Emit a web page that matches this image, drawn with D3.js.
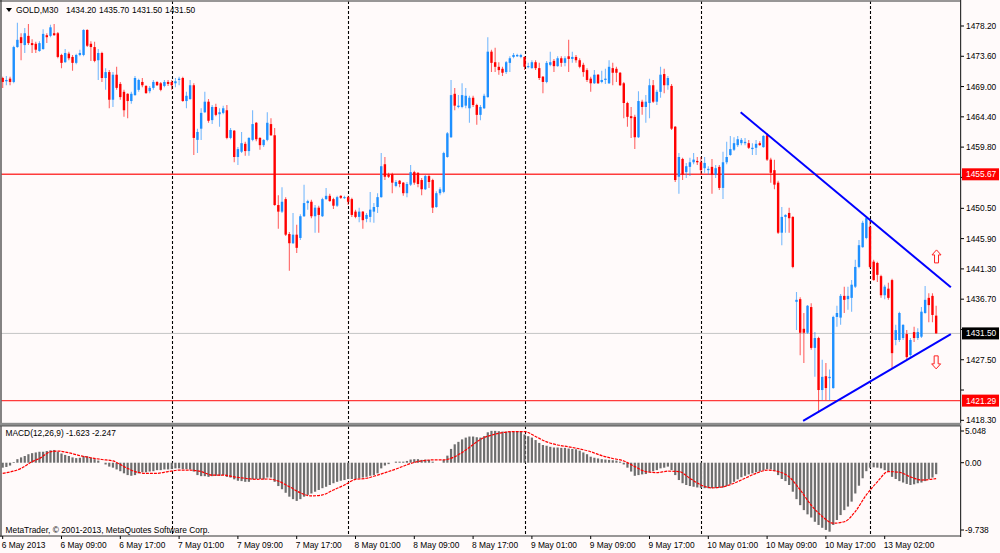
<!DOCTYPE html>
<html>
<head>
<meta charset="utf-8">
<script src="https://cdn.jsdelivr.net/npm/d3@7"></script>
<style>
body{margin:0;background:#fff}
svg{display:block}
text{font-family:"Liberation Sans",Arial,sans-serif;font-size:8.4px;fill:#000}
</style>
</head>
<body>
<div id="container"></div>
<script>
// GOLD M30 bars, 6 May 2013 01:00 .. 13 May 2013 09:00
const open = [1470.3,1469.8,1470.2,1469.7,1475.0,1476.5,1475.3,1476.7,1475.6,1475.5,
1474.4,1474.7,1476.8,1476.7,1477.1,1477.1,1473.8,1472.7,1474.0,1473.5,
1472.6,1473.8,1473.8,1477.6,1475.5,1475.0,1473.0,1474.1,1470.3,1471.2,
1467.0,1470.8,1469.4,1468.2,1467.9,1466.8,1467.7,1468.5,1469.7,1469.1,
1468.3,1468.8,1469.7,1469.5,1469.1,1469.7,1469.7,1469.5,1470.0,1470.3,
1466.8,1467.1,1469.2,1460.9,1462.6,1465.1,1466.7,1463.9,1465.9,1464.8,
1465.0,1465.4,1461.2,1462.3,1458.3,1459.1,1460.3,1459.2,1460.9,1463.5,
1461.2,1460.1,1460.9,1463.3,1461.6,1451.0,1450.0,1451.9,1446.6,1445.2,
1446.5,1446.0,1449.3,1451.3,1451.5,1449.3,1450.6,1449.3,1451.9,1452.4,
1451.9,1450.9,1452.4,1452.1,1452.2,1451.9,1450.0,1449.2,1450.0,1448.9,
1449.2,1450.0,1450.7,1452.2,1457.2,1455.6,1455.7,1453.9,1454.7,1454.4,
1452.8,1454.1,1456.0,1455.9,1454.8,1453.4,1455.4,1454.8,1450.7,1452.8,
1453.0,1458.3,1461.3,1467.9,1465.9,1465.9,1466.1,1465.7,1467.3,1466.2,
1464.7,1465.7,1467.4,1474.3,1472.7,1472.0,1471.7,1471.2,1472.6,1473.5,
1473.6,1473.5,1473.5,1472.0,1471.8,1472.7,1471.8,1470.5,1469.7,1472.3,
1472.9,1472.1,1473.3,1472.6,1473.6,1473.2,1473.5,1473.0,1472.3,1471.5,
1470.2,1469.5,1470.8,1469.7,1470.0,1469.5,1471.8,1471.7,1471.1,1469.5,
1466.5,1464.5,1464.4,1461.3,1466.7,1465.9,1466.5,1469.2,1466.7,1468.2,
1470.9,1469.2,1469.1,1462.9,1455.3,1458.0,1456.0,1456.8,1457.5,1457.7,
1457.5,1456.6,1456.3,1456.8,1455.6,1456.8,1453.6,1457.5,1458.6,1459.4,
1460.1,1460.4,1460.4,1460.4,1459.5,1459.7,1460.4,1459.8,1461.6,1457.9,
1456.3,1454.4,1446.8,1449.2,1449.8,1449.2,1436.3,1436.7,1432.2,1431.6,
1435.5,1429.3,1430.8,1422.9,1425.0,1424.7,1423.2,1434.0,1433.9,1437.2,
1436.7,1436.9,1438.6,1441.6,1444.6,1446.0,1447.7,1442.4,1442.2,1440.2,
1437.3,1438.3,1439.6,1430.5,1430.5,1430.8,1431.4,1428.2,1431.7,1430.8,
1431.0,1434.6,1436.9,1437.2,1434.2]

const high = [1470.5,1470.6,1470.5,1475.2,1478.7,1477.1,1477.9,1478.5,1476.2,1475.8,
1475.9,1477.7,1477.1,1478.4,1478.5,1477.3,1474.0,1474.7,1474.3,1473.8,
1474.0,1474.6,1477.7,1477.7,1475.9,1475.8,1474.7,1474.3,1471.8,1471.5,
1471.2,1472.0,1469.7,1468.5,1468.0,1468.2,1470.6,1470.2,1470.3,1469.2,
1469.1,1470.0,1469.8,1469.7,1470.0,1470.0,1470.0,1470.3,1470.5,1470.5,
1468.2,1470.0,1469.5,1462.6,1465.7,1468.2,1467.1,1466.2,1466.4,1465.7,
1466.1,1466.2,1462.7,1462.4,1459.8,1462.1,1460.6,1461.3,1465.4,1463.6,
1461.3,1461.0,1465.1,1464.2,1462.7,1452.5,1453.7,1452.2,1446.9,1449.8,
1448.0,1449.6,1454.1,1451.8,1451.8,1451.0,1450.9,1452.1,1453.6,1452.7,
1452.1,1452.4,1452.5,1452.4,1452.4,1452.1,1450.3,1450.6,1450.1,1449.8,
1453.0,1451.3,1452.8,1458.9,1458.3,1455.9,1455.9,1454.8,1454.8,1454.5,
1454.5,1457.1,1456.2,1456.0,1455.1,1455.6,1455.6,1455.0,1453.1,1453.7,
1459.1,1462.1,1470.0,1468.8,1467.7,1469.5,1468.8,1467.6,1467.6,1466.4,
1466.2,1467.9,1476.5,1474.6,1474.9,1472.7,1472.0,1472.9,1473.6,1474.1,
1474.0,1474.0,1473.6,1472.6,1473.0,1473.0,1472.6,1470.6,1472.9,1474.3,
1473.2,1473.6,1473.6,1473.6,1476.1,1474.3,1473.8,1473.3,1472.6,1471.8,
1470.5,1471.5,1470.9,1471.4,1471.7,1473.0,1472.6,1472.0,1471.2,1469.7,
1466.7,1465.9,1464.7,1468.3,1467.0,1467.7,1470.2,1470.0,1468.5,1472.0,
1471.7,1470.6,1469.4,1463.0,1458.9,1458.2,1457.4,1458.2,1458.9,1458.3,
1458.3,1458.3,1456.9,1458.0,1457.1,1457.1,1459.1,1460.6,1461.5,1461.3,
1461.5,1461.2,1461.2,1460.9,1460.4,1460.9,1460.7,1461.6,1461.9,1458.2,
1457.9,1454.7,1450.7,1449.6,1450.6,1449.3,1437.8,1437.0,1434.6,1435.8,
1436.1,1431.7,1431.0,1427.5,1427.0,1426.0,1434.2,1435.7,1437.5,1438.6,
1438.6,1439.6,1442.7,1445.7,1448.6,1449.2,1448.7,1442.7,1442.4,1440.4,
1438.9,1439.2,1439.8,1432.8,1434.8,1432.9,1432.0,1430.8,1432.5,1432.3,
1435.5,1438.7,1437.6,1437.6,1435.7]

const low = [1468.8,1469.2,1469.2,1469.5,1474.9,1473.0,1474.1,1475.3,1474.1,1474.1,
1474.3,1474.6,1475.6,1476.5,1476.7,1473.3,1471.8,1472.6,1473.0,1471.4,
1472.4,1473.6,1473.6,1475.0,1472.9,1472.7,1470.0,1469.7,1468.5,1465.7,
1465.9,1468.5,1467.0,1464.4,1464.2,1466.4,1467.6,1468.2,1468.9,1467.9,
1468.0,1468.5,1469.1,1468.3,1468.9,1469.1,1468.5,1468.9,1469.2,1466.7,
1465.7,1467.0,1458.6,1458.9,1460.9,1465.0,1463.5,1463.3,1464.5,1462.9,
1464.8,1461.0,1461.0,1457.5,1457.1,1458.9,1458.5,1458.5,1460.7,1460.7,
1459.4,1459.8,1460.7,1461.5,1450.9,1447.4,1449.8,1446.3,1441.0,1445.1,
1443.7,1445.7,1449.2,1450.3,1449.0,1446.8,1446.8,1449.2,1451.8,1451.5,
1450.4,1450.7,1451.9,1451.9,1451.0,1449.2,1449.0,1448.4,1447.4,1448.4,
1448.4,1448.3,1449.8,1452.1,1454.8,1455.1,1452.8,1453.7,1453.7,1452.4,
1452.2,1453.9,1454.1,1453.7,1452.5,1453.3,1453.6,1449.8,1450.6,1452.5,
1452.8,1458.2,1461.2,1465.4,1465.7,1465.7,1465.7,1463.5,1465.9,1463.2,
1463.9,1465.6,1467.3,1471.2,1471.2,1470.8,1470.6,1470.9,1471.2,1473.3,
1473.5,1473.3,1471.5,1471.8,1471.7,1471.5,1470.0,1468.0,1469.5,1472.1,
1471.2,1472.0,1472.0,1472.1,1471.2,1472.6,1472.6,1471.8,1470.5,1469.7,
1468.2,1469.4,1469.4,1469.5,1469.4,1469.4,1469.2,1469.7,1469.1,1464.2,
1462.9,1461.2,1459.5,1461.2,1464.7,1463.5,1464.2,1466.5,1466.2,1467.3,
1468.0,1468.5,1462.4,1454.5,1452.7,1454.8,1455.1,1455.4,1457.2,1457.1,
1455.6,1455.9,1455.6,1452.7,1455.1,1453.3,1451.9,1457.2,1458.5,1459.2,
1459.8,1460.1,1460.1,1459.5,1458.6,1458.6,1460.0,1459.7,1457.7,1454.4,
1453.4,1446.6,1444.9,1446.8,1446.8,1441.4,1432.0,1428.2,1427.0,1431.4,
1429.0,1424.9,1419.4,1421.4,1421.4,1421.4,1423.1,1432.5,1432.8,1434.6,
1435.1,1434.8,1438.4,1441.4,1444.5,1445.8,1441.4,1439.5,1439.3,1436.9,
1436.7,1436.6,1426.1,1429.7,1430.2,1430.5,1427.5,1427.8,1430.2,1430.5,
1430.8,1434.5,1433.2,1433.2,1431.5]

const close = [1469.7,1470.0,1469.7,1475.0,1476.1,1475.6,1477.1,1475.6,1475.3,1474.6,
1475.6,1477.0,1476.5,1478.0,1476.8,1473.5,1472.6,1474.1,1473.3,1472.6,
1473.8,1474.1,1477.6,1475.2,1475.0,1472.9,1474.1,1470.3,1471.2,1467.0,
1470.8,1468.8,1467.4,1465.4,1466.8,1467.9,1470.3,1470.0,1469.2,1468.0,
1468.8,1469.7,1469.2,1468.5,1469.7,1469.4,1469.2,1469.8,1470.2,1466.8,
1467.6,1469.2,1461.2,1462.1,1465.0,1466.7,1463.8,1465.9,1464.7,1465.1,
1465.7,1461.2,1462.4,1458.3,1459.5,1460.4,1459.2,1461.2,1463.3,1461.0,
1460.1,1460.9,1463.5,1461.6,1451.0,1450.0,1451.5,1446.5,1445.2,1446.5,
1444.5,1449.3,1451.3,1451.6,1449.3,1450.6,1449.5,1451.9,1452.4,1451.6,
1450.9,1452.2,1452.1,1452.2,1451.5,1449.5,1449.2,1450.0,1448.7,1449.5,
1450.3,1450.7,1452.2,1456.9,1455.3,1455.3,1454.4,1454.5,1454.2,1452.8,
1454.2,1456.0,1454.4,1454.2,1453.4,1455.4,1454.5,1450.6,1452.8,1453.4,
1458.9,1461.9,1467.7,1466.1,1466.1,1467.7,1467.6,1467.3,1466.2,1464.7,
1465.9,1467.6,1474.3,1472.6,1472.0,1471.5,1471.1,1472.7,1473.3,1473.8,
1473.8,1473.8,1472.0,1472.1,1472.7,1471.8,1470.3,1469.7,1472.6,1472.7,
1472.1,1473.3,1472.6,1473.3,1473.2,1473.5,1473.0,1472.0,1471.2,1470.0,
1469.5,1470.8,1469.5,1470.0,1470.2,1472.0,1471.1,1471.1,1469.2,1466.5,
1464.4,1464.2,1461.3,1466.8,1465.9,1466.7,1469.2,1466.7,1468.2,1470.8,
1469.2,1470.3,1462.6,1454.8,1458.3,1455.6,1456.9,1457.5,1457.9,1457.5,
1456.3,1457.4,1456.5,1455.6,1456.6,1453.6,1457.5,1458.3,1459.5,1460.4,
1461.0,1460.9,1460.6,1459.7,1459.7,1460.3,1460.1,1461.5,1457.9,1455.9,
1454.1,1446.8,1449.2,1449.5,1449.0,1441.6,1436.6,1431.6,1431.6,1435.7,
1429.3,1430.8,1422.9,1424.9,1423.2,1424.9,1434.0,1434.6,1437.2,1436.6,
1437.2,1438.9,1441.6,1444.9,1448.3,1449.0,1441.6,1439.6,1440.4,1437.3,
1438.6,1436.9,1428.5,1432.0,1434.6,1432.8,1427.9,1430.5,1430.8,1431.7,
1434.8,1436.6,1435.8,1434.3,1431.5]

// MACD(12,26,9) main line (histogram) and signal line
const macdHist = [-0.7,-0.6,-0.4,0.1,0.5,0.75,0.95,1.2,1.35,1.45,
1.55,1.55,1.65,1.75,1.8,1.55,1.3,1.1,0.95,0.75,
0.65,0.7,0.95,0.9,0.7,0.5,0.3,0,-0.25,-0.55,
-0.7,-0.95,-1.2,-1.5,-1.75,-1.85,-1.75,-1.5,-1.35,-1.35,
-1.25,-1.2,-1.05,-1.05,-0.95,-0.95,-0.9,-0.8,-0.8,-0.9,
-0.9,-0.95,-1.25,-1.75,-1.9,-1.9,-2.0,-1.9,-1.85,-1.85,
-1.75,-2.0,-2.1,-2.35,-2.55,-2.6,-2.7,-2.7,-2.35,-2.3,
-2.3,-2.35,-2.1,-2.1,-2.7,-3.3,-3.75,-4.25,-4.8,-5.15,
-5.4,-5.15,-4.8,-4.55,-4.35,-4.1,-3.85,-3.6,-3.4,-3.15,
-2.9,-2.7,-2.55,-2.45,-2.3,-2.3,-2.3,-2.2,-2.1,-2.0,
-1.85,-1.75,-1.5,-0.8,-0.4,-0.2,0,0.15,0.15,0.15,
0.25,0.45,0.5,0.5,0.4,0.45,0.4,0.15,0,0,
0.4,1.0,1.95,2.6,2.95,3.3,3.55,3.7,3.7,3.6,
3.55,3.75,4.3,4.5,4.5,4.45,4.4,4.4,4.4,4.4,
4.45,4.4,4.0,3.75,3.55,3.2,2.8,2.5,2.4,2.25,
2.15,2.15,2.1,2.1,2.0,1.95,1.9,1.7,1.45,1.2,
0.85,0.7,0.6,0.5,0.45,0.4,0.35,0.3,0.15,-0.25,
-0.7,-1.25,-1.85,-1.75,-1.65,-1.6,-1.35,-1.2,-1.05,-0.8,
-0.7,-0.55,-1.05,-1.75,-2.45,-2.9,-3.15,-3.3,-3.4,-3.5,
-3.55,-3.6,-3.6,-3.6,-3.6,-3.55,-3.5,-3.3,-3.0,-2.7,
-2.35,-2.05,-1.85,-1.65,-1.5,-1.35,-1.25,-1.05,-0.9,-0.95,
-1.2,-1.75,-2.3,-2.6,-3.15,-4.1,-5.15,-6.0,-6.7,-7.3,
-7.75,-8.35,-8.8,-9.2,-9.5,-9.75,-8.8,-8.1,-7.4,-6.7,
-6.2,-5.5,-4.35,-3.25,-2.2,-1.2,-0.7,-0.65,-0.7,-0.8,
-1.05,-1.25,-2.0,-2.3,-2.6,-2.8,-3.0,-3.15,-3.05,-2.9,
-2.8,-2.6,-2.3,-2.1,-1.623]

const signalIdx = [0,5,8,10,13,15,18,21,24,27,30,33,36,39,42,45,48,51,54,57,60,63,66,69,72,75,78,81,84,87,90,93,96,99,102,105,108,111,114,117,120,123,126,129,130,133,136,139,142,145,148,151,154,157,160,163,166,169,172,175,178,181,184,187,190,193,196,199,202,205,208,211,214,217,220,223,226,229,232,235,238,241,244,247,250,254]
const signalVal = [-1.5,-0.8,0.15,0.6,1.55,1.65,1.4,1.0,0.7,0.45,0.25,-0.55,-1.25,-1.5,-1.5,-1.25,-1.05,-1.05,-1.25,-1.75,-1.75,-2.0,-2.2,-2.35,-2.3,-2.6,-3.4,-4.25,-4.7,-4.55,-3.85,-3.15,-2.35,-2.2,-1.75,-1.25,-0.7,-0.1,0.25,0.4,0.4,0.85,1.8,2.95,3.3,3.9,4.25,4.4,4.4,3.7,2.95,2.5,2.25,1.95,1.55,1.0,0.6,0.25,-0.55,-1.25,-1.4,-1.2,-1.25,-2.2,-3.15,-3.55,-3.4,-2.9,-2.2,-1.5,-1.05,-1.25,-2.0,-3.85,-6.0,-7.6,-8.55,-8.35,-6.9,-4.55,-2.7,-1.25,-1.35,-2.0,-2.45,-2.247]

// time axis
const timeIdx = [0,16,32,48,64,80,96,112,128,144,160,176,192,208,224,240]
const timeText = ["6 May 2013","6 May 09:00","6 May 17:00","7 May 01:00","7 May 09:00","7 May 17:00",
"8 May 01:00","8 May 09:00","8 May 17:00","9 May 01:00","9 May 09:00","9 May 17:00",
"10 May 01:00","10 May 09:00","10 May 17:00","13 May 02:00"]
const daySeparators = [46,94,142,190,236]

// price axis
const priceTicks = [1478.20,1473.60,1469.00,1464.40,1459.80,1455.20,1450.50,1445.90,1441.30,1436.70,1432.10,1427.50,1422.90,1418.30]
const levelLines = [1455.67,1421.29]
const bidPrice = 1431.50
const macdTicks = [5.048,0.00,-9.738]

// drawn objects: trend lines (bar index, price) and arrows
const trendFrom = [[200.8,1465.1],[217.8,1418.2]]
const trendTo = [[258.0,1438.5],[258.0,1431.4]]
const arrowIdx = [254.1,254.0]
const arrowPrice = [1443.2,1427.1]
const arrowDir = ["up","down"]

const W=1000, H=553
const bull="#1e90ff", bear="#ff0000"

const svg = d3.select("#container").append("svg")
  .attr("width",W)
  .attr("height",H)

svg.append("rect").attr("width",W).attr("height",H).attr("fill","#fffafa")

const x = d3.scaleLinear().domain([0,254]).range([2.7,936.15])
const y = d3.scaleLinear().domain([1418.3,1478.2]).range([420.3,26])
const ym = d3.scaleLinear().domain([-9.738,5.048]).range([531.6,427])

const defs = svg.append("defs")
defs.append("clipPath").attr("id","clipMain").append("rect")
  .attr("x",1.5).attr("y",1.5).attr("width",959).attr("height",421)
defs.append("clipPath").attr("id","clipMacd").append("rect")
  .attr("x",1.5).attr("y",426.5).attr("width",959).attr("height",109)

const main = svg.append("g").attr("clip-path","url(#clipMain)")
const sub = svg.append("g").attr("clip-path","url(#clipMacd)")

// day separators
;[main,sub].forEach((g,k)=>{
  g.selectAll("line.sep").data(daySeparators).enter().append("line")
    .attr("class","sep")
    .attr("x1",d=>Math.round(x(d))+0.5).attr("x2",d=>Math.round(x(d))+0.5)
    .attr("y1",k?426:1).attr("y2",k?536:423)
    .attr("stroke","#000").attr("stroke-width",1.1)
    .attr("stroke-dasharray","3,2")
})

// level lines and bid line
main.selectAll("line.lvl").data(levelLines).enter().append("line")
  .attr("x1",0).attr("x2",961)
  .attr("y1",d=>y(d)).attr("y2",d=>y(d))
  .attr("stroke","#ff3b3b").attr("stroke-width",1.4)
main.append("line")
  .attr("x1",0).attr("x2",961)
  .attr("y1",y(bidPrice)).attr("y2",y(bidPrice))
  .attr("stroke","#c4c4c4").attr("stroke-width",1)

// candles
const bars = d3.range(open.length).map(i=>({i,o:open[i],h:high[i],l:low[i],c:close[i]}))
const col = d=> d.c>=d.o ? bull : bear

main.selectAll("line.wick").data(bars).enter().append("line")
  .attr("x1",d=>x(d.i)).attr("x2",d=>x(d.i))
  .attr("y1",d=>y(d.h)).attr("y2",d=>y(d.l))
  .attr("stroke",col).attr("stroke-opacity",0.6).attr("stroke-width",1.1)

main.selectAll("rect.body").data(bars).enter().append("rect")
  .attr("x",d=>x(d.i)-1.2)
  .attr("width",2.4)
  .attr("y",d=>y(Math.max(d.o,d.c)))
  .attr("height",d=>Math.max(1,Math.abs(y(d.o)-y(d.c))))
  .attr("fill",col)

// trend lines
main.selectAll("line.trend").data(trendFrom).enter().append("line")
  .attr("x1",d=>x(d[0])).attr("y1",d=>y(d[1]))
  .attr("x2",(d,i)=>x(trendTo[i][0])).attr("y2",(d,i)=>y(trendTo[i][1]))
  .attr("stroke","#0000ff").attr("stroke-width",2)

// arrows
const upArrow = "M0,-6.5L4.5,-1.5L2,-1.5L2,6.5L-2,6.5L-2,-1.5L-4.5,-1.5Z"
main.selectAll("path.arrow").data(arrowIdx).enter().append("path")
  .attr("d",upArrow)
  .attr("transform",(d,i)=>`translate(${x(d)},${y(arrowPrice[i])})`+(arrowDir[i]=="down"?" scale(1,-1)":""))
  .attr("fill","none").attr("stroke","#ff2020").attr("stroke-width",1)

// MACD histogram
sub.selectAll("rect.hist").data(macdHist).enter().append("rect")
  .attr("x",(d,i)=>x(i)-1.1)
  .attr("width",2.2)
  .attr("y",d=>Math.min(ym(0),ym(d)))
  .attr("height",d=>Math.abs(ym(d)-ym(0)))
  .attr("fill","#6e6e6e")

const sigLine = d3.line()
  .x(d=>x(d[0])).y(d=>ym(d[1]))
  .curve(d3.curveMonotoneX)
sub.append("path")
  .attr("d",sigLine(signalIdx.map((v,i)=>[v,signalVal[i]])))
  .attr("fill","none").attr("stroke","#ff0000").attr("stroke-width",1.2)
  .attr("stroke-dasharray","3,1")

// frame
const frame = svg.append("g").attr("stroke","#333").attr("stroke-width",1.2)
frame.append("line").attr("x1",0).attr("x2",961).attr("y1",1).attr("y2",1)
frame.append("line").attr("x1",1).attr("x2",1).attr("y1",0).attr("y2",537)
frame.append("line").attr("x1",960.6).attr("x2",960.6).attr("y1",0).attr("y2",537)
frame.append("line").attr("x1",0).attr("x2",961).attr("y1",536).attr("y2",536)
svg.append("rect").attr("x",0).attr("y",422.8).attr("width",961).attr("height",3.2).attr("fill","#8c8c8c")
svg.append("line").attr("x1",0).attr("x2",961).attr("y1",426).attr("y2",426).attr("stroke","#555").attr("stroke-width",1)

// price axis (labels sitting under a level box are hidden, as in the terminal)
const boxes = levelLines.map(p=>({p,fill:"#ff0000"})).concat([{p:bidPrice,fill:"#000"}])
const visibleTicks = priceTicks.filter(t=>boxes.every(b=>Math.abs(y(t)-y(b.p))>11))
const pa = svg.append("g")
pa.selectAll("line").data(priceTicks).enter().append("line")
  .attr("x1",961).attr("x2",964).attr("y1",d=>y(d)).attr("y2",d=>y(d))
  .attr("stroke","#000")
pa.selectAll("text").data(visibleTicks).enter().append("text")
  .attr("x",966).attr("y",d=>y(d)+3)
  .text(d=>d.toFixed(2))

const bg = svg.selectAll("g.box").data(boxes).enter().append("g")
bg.append("rect").attr("x",962).attr("width",37).attr("y",d=>y(d.p)-6).attr("height",12).attr("fill",d=>d.fill)
bg.append("text").attr("x",966).attr("y",d=>y(d.p)+3).style("fill","#fff").text(d=>d.p.toFixed(2))

// macd axis
const clampY = v=>Math.min(Math.max(ym(v),431),530)
svg.selectAll("line.mt").data(macdTicks).enter().append("line")
  .attr("x1",961).attr("x2",964).attr("y1",clampY).attr("y2",clampY).attr("stroke","#000")
svg.selectAll("text.mt").data(macdTicks).enter().append("text")
  .attr("x",965).attr("y",d=>clampY(d)+3)
  .text(d=>d==0?"0.00":d.toFixed(3))

// time axis
svg.selectAll("line.tt").data(timeIdx).enter().append("line")
  .attr("x1",d=>x(d)).attr("x2",d=>x(d)).attr("y1",536).attr("y2",539)
  .attr("stroke","#000")
svg.selectAll("text.tl").data(timeIdx).enter().append("text")
  .attr("x",d=>x(d)-1).attr("y",547.5)
  .text((d,i)=>timeText[i])

// header
const last = open.length-1
svg.append("path").attr("d","M6,8L12,8L9,12Z").attr("fill","#000")
svg.append("text").attr("x",16).attr("y",13).text("GOLD,M30")
;[open[last],high[last],low[last],close[last]].forEach((v,k)=>{
  svg.append("text").attr("x",66+k*33).attr("y",13).text(v.toFixed(2))
})

svg.append("text").attr("x",5.5).attr("y",435.5)
  .text("MACD(12,26,9) "+macdHist[last].toFixed(3)+" "+signalVal[signalVal.length-1].toFixed(3))
svg.append("text").attr("x",5.5).attr("y",533)
  .text("MetaTrader, \u00a9 2001-2013, MetaQuotes Software Corp.")
</script>
</body>
</html>
